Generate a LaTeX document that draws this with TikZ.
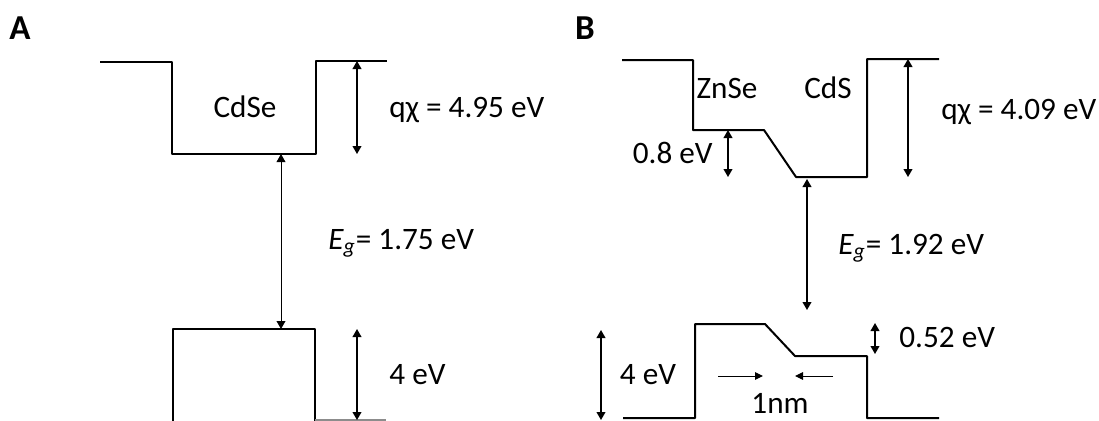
\documentclass[tikz,border=0pt]{standalone}
\usepackage{fontspec}
\setmainfont{Carlito}
\usetikzlibrary{arrows.meta}

\begin{document}
\begin{tikzpicture}[x=0.5pt, y=-0.5pt,
          band/.style={line width=1pt, line join=round},
          dim/.style={{Triangle[length=4pt,width=4.4pt]}-{Triangle[length=4pt,width=4.4pt]},
                      line width=0.7pt},
          gap/.style={dim, line width=0.5pt},
          push/.style={-{Triangle[length=4pt,width=3.8pt]}, line width=0.5pt},
          lbl/.style={font=\fontsize{15.6}{18}\selectfont, inner sep=0pt},
          tag/.style={font=\fontsize{17.5}{20}\selectfont\bfseries, inner sep=0pt}
        ]
        \useasboundingbox (0,0) rectangle (1099,420);

        % Panel A: CdSe
        \node[tag] (tagA) at (20,28) {A};
        \draw[band] (100,62) -- (172,62) -- (172,154) -- (316,154) -- (316,61) -- (387,61);
        \draw[band] (173,424) -- (173,329) -- (315,329) -- (315,424);
        \draw[band, black!45] (315,419.5) -- (386,419.5);
        \node[lbl] (cdse) at (245,107) {CdSe};

        \coordinate (vacA) at (357,61);
        \coordinate (cbA)  at (357,154);
        \coordinate (vbA)  at (357,329);
        \coordinate (botA) at (357,420);
        \coordinate (cbgA) at (281,154);
        \coordinate (vbgA) at (281,329);
        \draw[dim] (vacA) -- (cbA);
        \draw[dim] (vbA) -- (botA);
        \draw[gap] (cbgA) -- (vbgA);

        \node[lbl, anchor=west] (chiA) at (389,110) {qχ = 4.95 eV};
        \node[lbl, anchor=west] (egA)  at (328,243) {{\itshape E}\textsubscript{\itshape g}= 1.75 eV};
        \node[lbl, anchor=west] (offA) at (389,375) {4 eV};

        % Panel B: ZnSe / CdS
        \node[tag] (tagB) at (585,28) {B};
        \draw[band] (622,60) -- (693,60) -- (693,130) -- (764,130) -- (796,177)
                    -- (867,177) -- (867,59) -- (939,59);
        \draw[band] (623,418) -- (695,418) -- (695,324) -- (765,324) -- (795,356)
                    -- (867,356) -- (867,418) -- (939,418);
        \node[lbl] (znse) at (727,88) {ZnSe};
        \node[lbl] (cds)  at (828,88) {CdS};

        \coordinate (vacB)  at (908,59);
        \coordinate (cbB)   at (908,177);
        \coordinate (stepB) at (728,130);
        \coordinate (wellB) at (728,177);
        \coordinate (cbgB)  at (807,179);
        \coordinate (vbgB)  at (807,310);
        \coordinate (vbB)   at (601,330);
        \coordinate (botB)  at (601,420);
        \coordinate (vbhB)  at (875,323);
        \coordinate (vblB)  at (875,354);
        \draw[dim] (vacB) -- (cbB);
        \draw[dim] (stepB) -- (wellB);
        \draw[dim] (cbgB) -- (vbgB);
        \draw[dim] (vbB) -- (botB);
        \draw[dim] (vbhB) -- (vblB);

        % 1nm shell
        \coordinate (inL)  at (718,376);
        \coordinate (inLe) at (763,376);
        \coordinate (inR)  at (833,376);
        \coordinate (inRe) at (795,376);
        \draw[push] (inL) -- (inLe);
        \draw[push] (inR) -- (inRe);

        \node[lbl, anchor=west] (chiB) at (941,112) {qχ = 4.09 eV};
        \node[lbl, anchor=east] (cbo)  at (713,153) {0.8 eV};
        \node[lbl, anchor=west] (egB)  at (838,248) {{\itshape E}\textsubscript{\itshape g}= 1.92 eV};
        \node[lbl] (offB) at (648,375) {4 eV};
        \node[lbl, anchor=west] (vbo)  at (899,337) {0.52 eV};
        \node[lbl] (shell) at (780,403) {1nm};
      \end{tikzpicture}
\end{document}
